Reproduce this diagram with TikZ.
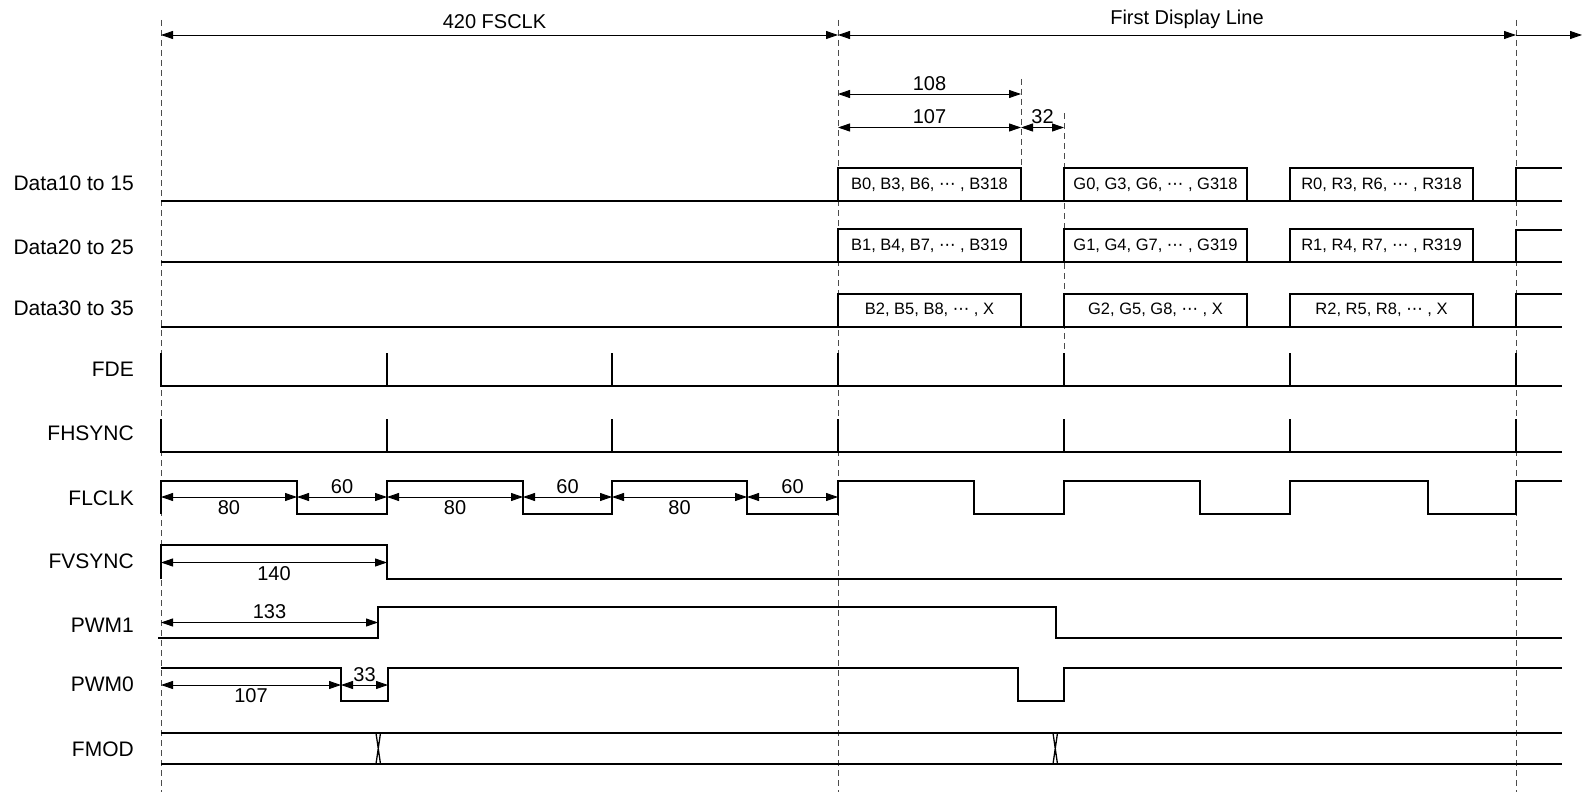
\documentclass[tikz,border=0pt]{standalone}
\usepackage{fontspec}
\setmainfont{Liberation Sans}
\newfontfamily\dotsfont{DejaVu Sans}
\newcommand*{\mdots}{{\dotsfont\char"22EF}}
\usetikzlibrary{arrows.meta}

\begin{document}
\begin{tikzpicture}[x=1pt,y=-1pt,>={Triangle[length=12pt,width=8pt]},
    every node/.style={font=\fontsize{20}{24}\selectfont},
    wave/.style={line width=2pt},
    dim/.style={line width=0.9pt,<->},
    guide/.style={line width=1pt,black!70,dash pattern=on 6pt off 4pt},
    sig/.style={anchor=east,inner sep=0pt,font=\fontsize{21}{25}\selectfont},
    bus/.style={draw,line width=2pt,minimum width=183pt,minimum height=33pt,
      inner sep=0pt,font=\fontsize{16.5}{20}\selectfont}]
  \useasboundingbox (0,0) rectangle (1583,792);
  % dashed guides
  \draw[guide] (161,20) -- (161,792);
  \draw[guide] (838,20) -- (838,792);
  \draw[guide] (1516,20) -- (1516,792);
  \draw[guide] (1021,79) -- (1021,168);
  \draw[guide] (1064,113) -- (1064,353);

  % signal names
  \node[sig] (data1) at (134,183) {Data10 to 15};
  \node[sig] (data2) at (134,247) {Data20 to 25};
  \node[sig] (data3) at (134,308.5) {Data30 to 35};
  \node[sig] (fde) at (134,369) {FDE};
  \node[sig] (fhsync) at (134,433.5) {FHSYNC};
  \node[sig] (flclk) at (134,498.5) {FLCLK};
  \node[sig] (fvsync) at (134,561) {FVSYNC};
  \node[sig] (pwm1) at (134,625) {PWM1};
  \node[sig] (pwm0) at (134,684) {PWM0};
  \node[sig] (fmod) at (134,749.5) {FMOD};

  % data buses
  \draw[wave] (161,201) -- (1562,201) (1516,201) -- (1516,168) -- (1562,168);
  \draw[wave] (161,262) -- (1562,262) (1516,262) -- (1516,229.5) -- (1562,229.5);
  \draw[wave] (161,326.5) -- (1562,326.5) (1516,326.5) -- (1516,294) -- (1562,294);
  \node[bus] (b1) at (929.5,184.5) {B0, B3, B6, \mdots\ , B318};
  \node[bus] (g1) at (1155.5,184.5) {G0, G3, G6, \mdots\ , G318};
  \node[bus] (r1) at (1381.5,184.5) {R0, R3, R6, \mdots\ , R318};
  \node[bus] (b2) at (929.5,245.75) {B1, B4, B7, \mdots\ , B319};
  \node[bus] (g2) at (1155.5,245.75) {G1, G4, G7, \mdots\ , G319};
  \node[bus] (r2) at (1381.5,245.75) {R1, R4, R7, \mdots\ , R319};
  \node[bus] (b3) at (929.5,310.25) {B2, B5, B8, \mdots\ , X};
  \node[bus] (g3) at (1155.5,310.25) {G2, G5, G8, \mdots\ , X};
  \node[bus] (r3) at (1381.5,310.25) {R2, R5, R8, \mdots\ , X};

  % FDE and FHSYNC
  \draw[wave] (161,353) -- (161,386) -- (1562,386)
    (387,353) -- (387,386) (612,353) -- (612,386) (838,353) -- (838,386)
    (1064,353) -- (1064,386) (1290,353) -- (1290,386) (1516,353) -- (1516,386);
  \draw[wave] (161,419) -- (161,452) -- (1562,452)
    (387,419) -- (387,452) (612,419) -- (612,452) (838,419) -- (838,452)
    (1064,419) -- (1064,452) (1290,419) -- (1290,452) (1516,419) -- (1516,452);

  % FLCLK
  \draw[wave] (161,514) -- (161,481) -- (297,481) -- (297,514) -- (387,514)
    -- (387,481) -- (523,481) -- (523,514) -- (612,514) -- (612,481)
    -- (747,481) -- (747,514) -- (838,514) -- (838,481) -- (974,481)
    -- (974,514) -- (1064,514) -- (1064,481) -- (1200,481) -- (1200,514)
    -- (1290,514) -- (1290,481) -- (1428,481) -- (1428,514) -- (1516,514)
    -- (1516,481) -- (1562,481);

  % FVSYNC, PWM1, PWM0
  \draw[wave] (161,579) -- (161,545) -- (387,545) -- (387,579) -- (1562,579);
  \draw[wave] (158,638) -- (378,638) -- (378,606.5) -- (1056,606.5)
    -- (1056,638) -- (1562,638);
  \draw[wave] (161,668) -- (341,668) -- (341,700.5) -- (388,700.5)
    -- (388,668) -- (1018,668) -- (1018,700.5) -- (1064,700.5)
    -- (1064,668) -- (1562,668);

  % FMOD
  \draw[wave] (161,733) -- (1562,733) (161,764) -- (1562,764);
  \draw[line width=1.3pt] (376,733) -- (380.5,764) (380.5,733) -- (376,764)
    (1053,733) -- (1057.5,764) (1057.5,733) -- (1053,764);

  % dimensions
  \coordinate (a0) at (161,35);
  \coordinate (a1) at (838,35);
  \coordinate (a2) at (1516,35);
  \coordinate (a3) at (1582,35);
  \path[dim] (a0) edge node[above=3pt,xshift=-5pt] {420 FSCLK} (a1)
    (a1) edge node[above=3pt,xshift=10pt] {First Display Line} (a2)
    (a2) edge[->] (a3);

  \coordinate (p0) at (838,94);
  \coordinate (p1) at (1021,94);
  \coordinate (q0) at (838,127.5);
  \coordinate (q1) at (1021,127.5);
  \coordinate (q2) at (1064,127.5);
  \path[dim] (p0) edge node[above] {108} (p1)
    (q0) edge node[above] {107} (q1)
    (q1) edge node[above] {32} (q2);

  \coordinate (k0) at (161,497);
  \coordinate (k1) at (297,497);
  \coordinate (k2) at (387,497);
  \coordinate (k3) at (523,497);
  \coordinate (k4) at (612,497);
  \coordinate (k5) at (747,497);
  \coordinate (k6) at (838,497);
  \path[dim] (k0) edge node[below] {80} (k1)
    (k1) edge node[above] {60} (k2)
    (k2) edge node[below] {80} (k3)
    (k3) edge node[above] {60} (k4)
    (k4) edge node[below] {80} (k5)
    (k5) edge node[above] {60} (k6);

  \coordinate (v0) at (161,562.5);
  \coordinate (v1) at (387,562.5);
  \coordinate (w0) at (161,622.5);
  \coordinate (w1) at (378,622.5);
  \coordinate (u0) at (161,685);
  \coordinate (u1) at (341,685);
  \coordinate (u2) at (388,685);
  \path[dim] (v0) edge node[below] {140} (v1)
    (w0) edge node[above] {133} (w1)
    (u0) edge node[below] {107} (u1)
    (u1) edge node[above] {33} (u2);
\end{tikzpicture}
\end{document}
